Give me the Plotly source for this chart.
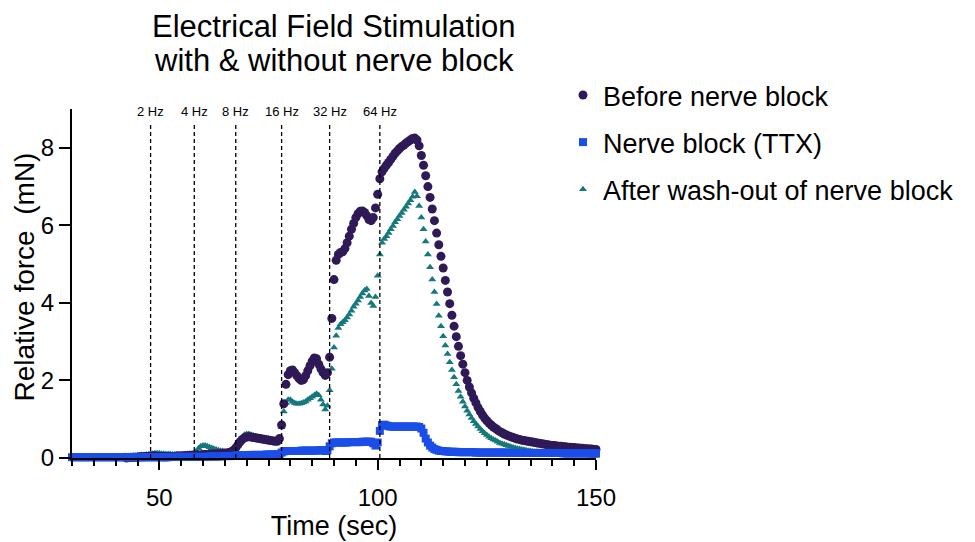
import numpy as np
import plotly.graph_objects as go

# sampling clock of the recording (sec), one reading every 0.5 s
time = np.arange(30, 150.5, 0.5)

# stimulation frequencies and where each train starts (sec)
freq_labels = ['2 Hz', '4 Hz', '8 Hz', '16 Hz', '32 Hz', '64 Hz']
freq_start = [48, 58, 67.5, 78, 89, 100.5]

# relative force (mN)
before = [
    None, None, None, None, None, None, None, None, None, None,
    None, None, None, None, None, None, None, None, None, None,
    None, None, None, None, None, 0.0, 0.01, 0.01, 0.02, 0.02,
    0.02, 0.03, 0.03, 0.03, 0.04, 0.04, 0.05, 0.05, 0.05, 0.04,
    0.04, 0.04, 0.03, 0.03, 0.03, 0.04, 0.04, 0.04, 0.05, 0.05,
    0.05, 0.06, 0.06, 0.06, 0.07, 0.07, 0.07, 0.08, 0.08, 0.08,
    0.09, 0.09, 0.09, 0.1, 0.1, 0.1, 0.1, 0.11, 0.11, 0.12,
    0.12, 0.13, 0.14, 0.16, 0.2, 0.26, 0.34, 0.42, 0.48, 0.52,
    0.54, 0.55, 0.54, 0.53, 0.52, 0.51, 0.5, 0.49, 0.48, 0.47,
    0.46, 0.45, 0.44, 0.43, 0.43, 0.5, 0.85, 1.4, 1.9, 2.15,
    2.25, 2.27, 2.2, 2.12, 2.05, 2.0, 2.02, 2.12, 2.25, 2.38,
    2.5, 2.58, 2.56, 2.42, 2.3, 2.2, 2.13, 2.2, 2.6, 3.6,
    4.6, 5.1, 5.25, 5.3, 5.32, 5.4, 5.55, 5.72, 5.9, 6.05,
    6.2, 6.3, 6.36, 6.37, 6.33, 6.25, 6.15, 6.12, 6.2, 6.45,
    6.8, 7.2, 7.38, 7.47, 7.55, 7.62, 7.7, 7.78, 7.86, 7.92,
    7.98, 8.03, 8.07, 8.12, 8.16, 8.2, 8.24, 8.25, 8.2, 8.05,
    7.8, 7.55, 7.28, 7.0, 6.72, 6.42, 6.12, 5.8, 5.5, 5.2,
    4.9, 4.58, 4.28, 3.98, 3.68, 3.4, 3.13, 2.88, 2.64, 2.42,
    2.2, 2.0, 1.83, 1.68, 1.54, 1.42, 1.3, 1.2, 1.11, 1.03,
    0.96, 0.9, 0.85, 0.8, 0.76, 0.72, 0.68, 0.65, 0.62, 0.59,
    0.57, 0.55, 0.53, 0.51, 0.49, 0.48, 0.46, 0.45, 0.44, 0.43,
    0.42, 0.41, 0.4, 0.39, 0.38, 0.37, 0.36, 0.35, 0.34, 0.33,
    0.32, 0.32, 0.31, 0.3, 0.3, 0.29, 0.29, 0.28, 0.28, 0.27,
    0.27, 0.26, 0.26, 0.25, 0.25, 0.24, 0.24, 0.23, 0.23, 0.22,
    0.22,
]

ttx = [
    0.02, 0.02, 0.02, 0.02, 0.02, 0.02, 0.02, 0.02, 0.02, 0.02,
    0.02, 0.02, 0.02, 0.02, 0.02, 0.02, 0.02, 0.02, 0.02, 0.02,
    0.02, 0.02, 0.02, 0.02, 0.02, 0.02, 0.02, 0.02, 0.02, 0.02,
    0.02, 0.02, 0.02, 0.02, 0.02, 0.02, 0.02, 0.02, 0.02, 0.02,
    0.02, 0.02, 0.02, 0.02, 0.02, 0.03, 0.03, 0.03, 0.03, 0.03,
    0.03, 0.03, 0.03, 0.03, 0.03, 0.03, 0.03, 0.03, 0.03, 0.03,
    0.03, 0.03, 0.03, 0.04, 0.04, 0.04, 0.04, 0.04, 0.04, 0.05,
    0.05, 0.05, 0.05, 0.05, 0.06, 0.06, 0.07, 0.07, 0.07, 0.07,
    0.07, 0.07, 0.08, 0.08, 0.08, 0.08, 0.08, 0.08, 0.08, 0.09,
    0.09, 0.09, 0.09, 0.09, 0.09, 0.1, 0.14, 0.17, 0.18, 0.18,
    0.18, 0.18, 0.18, 0.18, 0.18, 0.19, 0.19, 0.19, 0.19, 0.19,
    0.19, 0.19, 0.19, 0.2, 0.2, 0.2, 0.18, 0.2, 0.3, 0.38,
    0.4, 0.4, 0.4, 0.4, 0.4, 0.4, 0.4, 0.41, 0.41, 0.41,
    0.41, 0.41, 0.41, 0.42, 0.42, 0.42, 0.42, 0.42, 0.38, 0.32,
    0.4, 0.7, 0.85, 0.86, 0.84, 0.82, 0.81, 0.81, 0.81, 0.81,
    0.81, 0.81, 0.81, 0.81, 0.81, 0.81, 0.81, 0.81, 0.81, 0.8,
    0.76, 0.65, 0.5, 0.4, 0.32, 0.27, 0.23, 0.21, 0.19, 0.18,
    0.18, 0.17, 0.17, 0.16, 0.16, 0.16, 0.16, 0.15, 0.15, 0.15,
    0.15, 0.15, 0.15, 0.15, 0.15, 0.14, 0.14, 0.14, 0.14, 0.14,
    0.14, 0.14, 0.14, 0.14, 0.14, 0.14, 0.14, 0.14, 0.14, 0.14,
    0.13, 0.13, 0.13, 0.13, 0.13, 0.13, 0.13, 0.13, 0.13, 0.13,
    0.13, 0.13, 0.13, 0.13, 0.13, 0.13, 0.13, 0.13, 0.13, 0.13,
    0.13, 0.13, 0.13, 0.13, 0.13, 0.12, 0.12, 0.12, 0.12, 0.12,
    0.12, 0.12, 0.12, 0.12, 0.12, 0.12, 0.12, 0.12, 0.12, 0.12,
    0.12,
]

after = [
    0.01, 0.01, 0.01, 0.01, 0.01, 0.01, 0.01, 0.02, 0.02, 0.02,
    0.02, 0.02, 0.02, 0.02, 0.03, 0.03, 0.03, 0.03, 0.03, 0.03,
    0.04, 0.04, 0.04, 0.04, 0.05, 0.05, 0.05, 0.06, 0.06, 0.06,
    0.07, 0.07, 0.08, 0.08, 0.09, 0.09, 0.1, 0.11, 0.12, 0.12,
    0.12, 0.11, 0.11, 0.1, 0.1, 0.1, 0.09, 0.09, 0.09, 0.09,
    0.09, 0.09, 0.1, 0.1, 0.1, 0.11, 0.13, 0.18, 0.25, 0.3,
    0.32, 0.32, 0.3, 0.28, 0.26, 0.24, 0.22, 0.2, 0.19, 0.18,
    0.17, 0.16, 0.16, 0.17, 0.2, 0.26, 0.36, 0.46, 0.54, 0.6,
    0.62, 0.62, 0.6, 0.58, 0.56, 0.55, 0.54, 0.53, 0.52, 0.51,
    0.5, 0.49, 0.48, 0.47, 0.47, 0.5, 0.8, 1.2, 1.42, 1.5,
    1.5, 1.45, 1.42, 1.4, 1.4, 1.41, 1.43, 1.46, 1.5, 1.54,
    1.58, 1.62, 1.66, 1.62, 1.5, 1.38, 1.25, 1.35, 1.75, 2.3,
    2.85, 3.15, 3.35, 3.45, 3.5, 3.55, 3.62, 3.7, 3.8, 3.9,
    3.98, 4.06, 4.15, 4.24, 4.32, 4.36, 4.18, 4.0, 3.92, 4.15,
    4.7, 5.25, 5.55, 5.65, 5.72, 5.8, 5.9, 5.98, 6.08, 6.16,
    6.24, 6.32, 6.4, 6.48, 6.56, 6.65, 6.74, 6.86, 6.75, 6.5,
    6.2, 5.9, 5.58, 5.25, 4.92, 4.6, 4.28, 3.97, 3.67, 3.4,
    3.14, 2.9, 2.68, 2.47, 2.27, 2.08, 1.9, 1.73, 1.58, 1.45,
    1.33, 1.22, 1.12, 1.03, 0.95, 0.88, 0.81, 0.75, 0.69, 0.64,
    0.59, 0.55, 0.51, 0.48, 0.45, 0.42, 0.39, 0.37, 0.35, 0.33,
    0.31, 0.29, 0.27, 0.26, 0.24, 0.23, 0.22, 0.21, 0.2, 0.19,
    0.18, 0.17, 0.16, 0.16, 0.15, 0.14, 0.14, 0.13, 0.13, 0.12,
    0.12, 0.11, 0.11, 0.1, 0.1, 0.1, 0.09, 0.09, 0.09, 0.08,
    0.08, 0.08, 0.08, 0.07, 0.07, 0.07, 0.07, 0.07, 0.06, 0.06,
    0.06,
]

FONT = 'Liberation Sans, Arial, sans-serif'

fig = go.Figure()

# drawing order: wash-out at the back, TTX on top
fig.add_trace(go.Scatter(
    x=time, y=after, mode='markers', name='After wash-out of nerve block',
    marker=dict(symbol='triangle-up', size=7, color='#15787c'),
    cliponaxis=False, legendgroup='c', legendrank=3,
))
fig.add_trace(go.Scatter(
    x=time, y=before, mode='markers', name='Before nerve block',
    marker=dict(symbol='circle', size=9, color='#2f1957'),
    cliponaxis=False, legendgroup='a', legendrank=1,
))
fig.add_trace(go.Scatter(
    x=time, y=ttx, mode='markers', name='Nerve block (TTX)',
    marker=dict(symbol='square', size=8, color='#1b4ee8'),
    cliponaxis=False, legendgroup='b', legendrank=2,
))

# dashed markers for each stimulation train + labels
for lab, x0 in zip(freq_labels, freq_start):
    fig.add_shape(type='line', xref='x', yref='y', x0=x0, x1=x0, y0=0, y1=8.6,
                  line=dict(color='black', width=1.3, dash='4px,3px'))
    fig.add_annotation(x=x0, y=8.93, xref='x', yref='y', text=lab,
                       showarrow=False, font=dict(size=13, color='black'))

# two-line title (paper coords: plot area is 349 px tall)
fig.add_annotation(x=0.5, y=(458 - 26) / 349, xref='paper', yref='paper',
                   text='Electrical Field Stimulation', showarrow=False,
                   xanchor='center', yanchor='middle', font=dict(size=31))
fig.add_annotation(x=0.5, y=(458 - 60) / 349, xref='paper', yref='paper',
                   text='with &amp; without nerve block', showarrow=False,
                   xanchor='center', yanchor='middle', font=dict(size=31))

# y axis title
fig.add_annotation(x=(23.5 - 72) / 524, y=(458 - 277) / 349, xref='paper', yref='paper',
                   text='Relative force  (mN)', showarrow=False, textangle=-90,
                   xanchor='center', yanchor='middle', font=dict(size=28))

# page body adds an 8 px margin, so the figure is 8 px smaller each way
fig.update_layout(
    width=967, height=534,
    margin=dict(l=64, r=379, t=101, b=84, autoexpand=False),
    plot_bgcolor='white', paper_bgcolor='white',
    font=dict(family=FONT, color='black'),
    legend=dict(
        x=0.937, y=1.109, xanchor='left', yanchor='top',
        font=dict(size=27), traceorder='grouped', tracegroupgap=9,
        itemsizing='trace',
    ),
)

fig.update_xaxes(
    range=[30, 150], showgrid=False, zeroline=False, automargin=False,
    showline=True, linecolor='black', linewidth=2,
    ticks='outside', tickwidth=2, ticklen=10, tickcolor='black',
    tick0=50, dtick=50, tickfont=dict(size=24), ticklabelstandoff=7,
    minor=dict(ticks='outside', dtick=5, ticklen=6, tickwidth=2, tickcolor='black'),
    title=dict(text='Time (sec)', font=dict(size=27), standoff=6),
)
fig.update_yaxes(
    range=[0, 9], showgrid=False, zeroline=False, automargin=False,
    showline=True, linecolor='black', linewidth=2,
    ticks='outside', tickwidth=2, ticklen=11, tickcolor='black',
    tickvals=[0, 2, 4, 6, 8], tickfont=dict(size=24),
)

fig.write_html('out.html')
